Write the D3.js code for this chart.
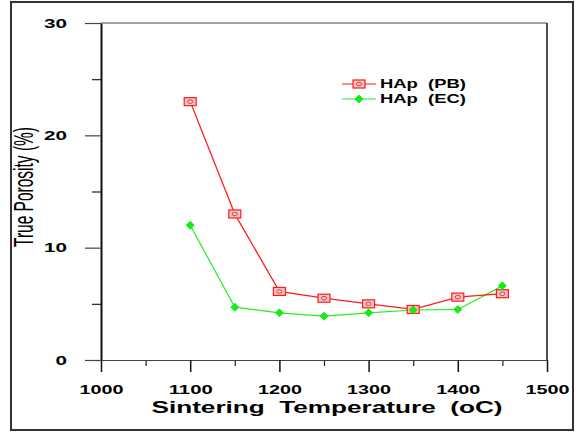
<!DOCTYPE html>
<html>
<head>
<meta charset="utf-8">
<script src="https://cdn.jsdelivr.net/npm/d3@7"></script>
<style>
  body { margin: 0; background: #fff; }
  text { font-family: "Liberation Sans", Arial, sans-serif; }
</style>
</head>
<body>
<svg id="chart"></svg>
<script>
// data
const temps = [1100, 1150, 1200, 1250, 1300, 1350, 1400, 1450];
const porosityPB = [23.0, 13.0, 6.1, 5.5, 5.0, 4.5, 5.6, 5.9];
const porosityEC = [12.0, 4.7, 4.2, 3.9, 4.2, 4.45, 4.5, 6.6];
const xTicks = [1000, 1100, 1200, 1300, 1400, 1500];
const xMinorTicks = [1050, 1150, 1250, 1350, 1450];
const yTicks = [0, 10, 20, 30];
const yMinorTicks = [5, 15, 25];
const seriesNames = ["HAp  (PB)", "HAp  (EC)"];

const W = 581, H = 432;
const margin = { top: 23, right: 34, bottom: 72, left: 101 };
const width = W - margin.left - margin.right;
const height = H - margin.top - margin.bottom;

const svg = d3.select("#chart").attr("width", W).attr("height", H);

// outer frame
svg.append("rect")
    .attr("x", 11).attr("y", 2)
    .attr("width", 562).attr("height", 428)
    .attr("fill", "none")
    .attr("stroke", "#333")
    .attr("stroke-width", 2);

const g = svg.append("g").attr("transform", `translate(${margin.left},${margin.top})`);

const x = d3.scaleLinear().domain([1000, 1500]).range([0, width]);
const y = d3.scaleLinear().domain([0, 30]).range([height, 0]);

// minor ticks first
g.append("g")
    .attr("transform", `translate(0,${height})`)
    .call(d3.axisBottom(x).tickValues(xMinorTicks).tickSize(6).tickSizeOuter(0).tickFormat(""))
    .call(a => a.select(".domain").remove())
    .call(a => a.selectAll("line").attr("stroke", "#222").attr("stroke-width", 1.2));

g.append("g")
    .call(d3.axisLeft(y).tickValues(yMinorTicks).tickSize(9).tickSizeOuter(0).tickFormat(""))
    .call(a => a.select(".domain").remove())
    .call(a => a.selectAll("line").attr("stroke", "#222").attr("stroke-width", 1.2));

// x axis
const xAxis = g.append("g")
    .attr("transform", `translate(0,${height})`)
    .call(d3.axisBottom(x).tickValues(xTicks).tickSize(12).tickSizeOuter(0).tickFormat(d3.format("d")));
xAxis.select(".domain").attr("stroke", "#444").attr("stroke-width", 1.2);
xAxis.selectAll("line").attr("stroke", "#111").attr("stroke-width", 1.5);
xAxis.selectAll("text")
    .attr("y", 25)
    .attr("fill", "#000")
    .style("font-size", "13px")
    .style("font-weight", "bold")
    .attr("textLength", 44)
    .attr("lengthAdjust", "spacingAndGlyphs");

// y axis
const yAxis = g.append("g")
    .call(d3.axisLeft(y).tickValues(yTicks).tickSize(16).tickSizeOuter(0));
yAxis.select(".domain").attr("stroke", "#111").attr("stroke-width", 2);
yAxis.selectAll("line").attr("stroke", "#444").attr("stroke-width", 1.2);
yAxis.selectAll("text")
    .attr("x", -34)
    .attr("fill", "#000")
    .style("font-size", "13px")
    .style("font-weight", "bold")
    .attr("textLength", d => String(d).length * 11.5)
    .attr("lengthAdjust", "spacingAndGlyphs");

// top and right frame of the plot
g.append("line")
    .attr("x1", 0).attr("x2", width).attr("y1", 0).attr("y2", 0)
    .attr("stroke", "#444").attr("stroke-width", 1.2);
g.append("line")
    .attr("x1", width).attr("x2", width).attr("y1", 0).attr("y2", height)
    .attr("stroke", "#111").attr("stroke-width", 1.5);

// axis titles
svg.append("text")
    .attr("x", 327).attr("y", 413)
    .attr("text-anchor", "middle")
    .attr("xml:space", "preserve")
    .style("white-space", "pre")
    .style("font-size", "16px")
    .style("font-weight", "bold")
    .attr("textLength", 351)
    .attr("lengthAdjust", "spacingAndGlyphs")
    .text("Sintering  Temperature  (oC)");

svg.append("text")
    .attr("transform", "translate(33,187) rotate(-90)")
    .attr("text-anchor", "middle")
    .style("font-size", "28px")
    .attr("textLength", 120)
    .attr("lengthAdjust", "spacingAndGlyphs")
    .text("True Porosity (%)");

// series
const pbData = temps.map((t, i) => ({ t: t, v: porosityPB[i] }));
const ecData = temps.map((t, i) => ({ t: t, v: porosityEC[i] }));

const line = d3.line().x(d => x(d.t)).y(d => y(d.v));

g.append("path").datum(ecData)
    .attr("d", line)
    .attr("fill", "none")
    .attr("stroke", "#22ee22")
    .attr("stroke-width", 1.2);

g.append("path").datum(pbData)
    .attr("d", line)
    .attr("fill", "none")
    .attr("stroke", "#ff1a1a")
    .attr("stroke-width", 1.3);

function pbMarker(sel) {
    sel.append("rect")
        .attr("x", -6).attr("y", -4).attr("width", 12).attr("height", 8)
        .attr("fill", "#ffc0c0").attr("stroke", "#ff1a1a").attr("stroke-width", 1.2);
    sel.append("ellipse")
        .attr("rx", 2.6).attr("ry", 1.8)
        .attr("fill", "none").attr("stroke", "#a05a5a").attr("stroke-width", 1);
}
function ecMarker(sel) {
    sel.append("path")
        .attr("d", "M0,-4L4,0L0,4L-4,0Z")
        .attr("fill", "#11ee11").attr("stroke", "#11dd11").attr("stroke-width", 0.8);
}

g.selectAll(".pb").data(pbData).join("g")
    .attr("class", "pb")
    .attr("transform", d => `translate(${x(d.t)},${y(d.v)})`)
    .call(pbMarker);

g.selectAll(".ec").data(ecData).join("g")
    .attr("class", "ec")
    .attr("transform", d => `translate(${x(d.t)},${y(d.v)})`)
    .call(ecMarker);

// legend
const legend = svg.append("g");
const legColors = ["#ff1a1a", "#22ee22"];
const legMarkers = [pbMarker, ecMarker];
seriesNames.forEach((name, i) => {
    const ly = 84 + i * 15;
    legend.append("line")
        .attr("x1", 342).attr("x2", 376).attr("y1", ly).attr("y2", ly)
        .attr("stroke", legColors[i]).attr("stroke-width", 1.2);
    legend.append("g").attr("transform", `translate(359,${ly})`).call(legMarkers[i]);
    legend.append("text")
        .attr("x", 380).attr("y", ly + 4)
        .attr("xml:space", "preserve")
        .style("white-space", "pre")
        .style("font-size", "12px")
        .style("font-weight", "bold")
        .attr("textLength", 86)
        .attr("lengthAdjust", "spacingAndGlyphs")
        .text(name);
});
</script>
</body>
</html>
